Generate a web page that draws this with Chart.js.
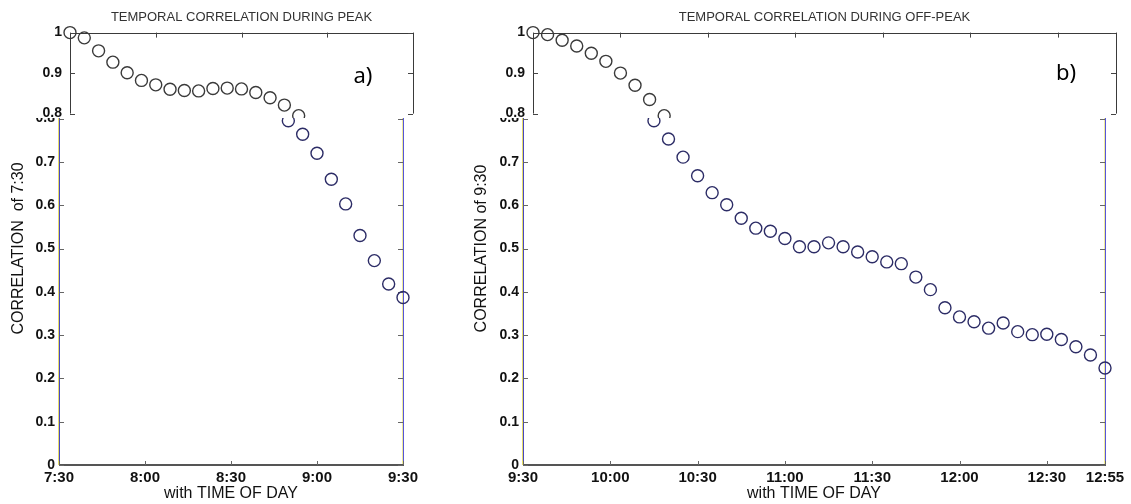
<!DOCTYPE html>
<html>
<head>
<meta charset="utf-8">
<script src="https://cdn.jsdelivr.net/npm/chart.js@4.4.1/dist/chart.umd.min.js"></script>
<style>
  body { margin: 0; background: #fff; width: 1131px; height: 504px; position: relative; overflow: hidden; }
  .box { position: absolute; overflow: hidden; background: #fff; }
  canvas { display: block; }
</style>
</head>
<body>
<div class="box" style="left:0;top:0;width:440px;height:504px"><canvas id="lowA" width="440" height="504"></canvas></div>
<div class="box" style="left:0;top:0;width:440px;height:118px"><canvas id="topA" width="440" height="130"></canvas></div>
<div class="box" style="left:460px;top:0;width:671px;height:504px"><canvas id="lowB" width="671" height="504"></canvas></div>
<div class="box" style="left:460px;top:0;width:671px;height:118px"><canvas id="topB" width="671" height="130"></canvas></div>
<script>
// data (5 minute steps)
const peakTimes = ['7:30','7:35','7:40','7:45','7:50','7:55','8:00','8:05','8:10','8:15','8:20','8:25',
  '8:30','8:35','8:40','8:45','8:50','8:55','9:00','9:05','9:10','9:15','9:20','9:25','9:30'];
const peakCorr = [1.0, 0.987, 0.955, 0.927, 0.901, 0.882, 0.871, 0.860, 0.857, 0.856, 0.862, 0.863,
  0.861, 0.852, 0.839, 0.821, 0.795, 0.764, 0.720, 0.660, 0.603, 0.530, 0.472, 0.418, 0.387];
const peakTicks = ['7:30','8:00','8:30','9:00','9:30'];

const offTimes = ['9:30','9:35','9:40','9:45','9:50','9:55','10:00','10:05','10:10','10:15','10:20','10:25',
  '10:30','10:35','10:40','10:45','10:50','10:55','11:00','11:05','11:10','11:15','11:20','11:25',
  '11:30','11:35','11:40','11:45','11:50','11:55','12:00','12:05','12:10','12:15','12:20','12:25',
  '12:30','12:35','12:40','12:45','12:55'];
const offCorr = [1.0, 0.995, 0.981, 0.967, 0.949, 0.929, 0.900, 0.870, 0.835, 0.795, 0.753, 0.711,
  0.668, 0.629, 0.601, 0.570, 0.547, 0.540, 0.523, 0.504, 0.504, 0.513, 0.504, 0.492,
  0.481, 0.469, 0.465, 0.434, 0.405, 0.363, 0.342, 0.331, 0.316, 0.328, 0.308, 0.301,
  0.302, 0.290, 0.273, 0.254, 0.224];
const offTicks = ['9:30','10:00','10:30','11:00','11:30','12:00','12:30','12:55'];

Chart.defaults.font.family = "'Liberation Sans', Arial, sans-serif";

const yFmt = v => String(+v.toFixed(1));

// matlab style box with inward ticks
const frame = {
  id: 'frame',
  beforeDatasetsDraw(chart, args, o) {
    const { ctx, chartArea: a, scales: { x, y } } = chart;
    ctx.save();
    const vline = (px, cols) => cols.forEach((c, k) => {
      ctx.fillStyle = c;
      ctx.fillRect(Math.round(px) - cols.length + 1 + k, a.top, 1, a.bottom - a.top);
    });
    const hline = (py, col, w) => {
      ctx.fillStyle = col;
      ctx.fillRect(a.left, Math.round(py) - (w - 1), a.right - a.left + 1, w);
    };
    if (o.left) vline(a.left, o.left);
    if (o.right) vline(a.right, o.right);
    if (o.top) hline(a.top, o.top, 1);
    if (o.bottom) hline(a.bottom, o.bottom, 2);
    ctx.strokeStyle = o.tickColor;
    ctx.lineWidth = 1;
    ctx.beginPath();
    o.xTicks.forEach(lbl => {
      const px = Math.round(x.getPixelForValue(chart.data.labels.indexOf(lbl))) + 0.5;
      const py = o.top ? a.top : a.bottom;
      const d = o.top ? 5 : -4;
      ctx.moveTo(px, py); ctx.lineTo(px, py + d);
    });
    y.ticks.forEach(t => {
      const py = Math.round(y.getPixelForValue(t.value)) + 0.5;
      ctx.moveTo(a.left, py); ctx.lineTo(a.left + 5, py);
      ctx.moveTo(a.right, py); ctx.lineTo(a.right - 5, py);
    });
    ctx.stroke();
    ctx.restore();
  },
  afterDraw(chart, args, o) {
    if (!o.tag) return;
    const { ctx } = chart;
    ctx.save();
    ctx.fillStyle = '#000';
    ctx.font = "22px 'Noto Sans', sans-serif";
    ctx.textAlign = 'center';
    ctx.textBaseline = 'middle';
    ctx.fillText(o.tag.text, o.tag.x, o.tag.y);
    ctx.restore();
  }
};

function lowerChart(id, times, values, ticks, yTitle, lay) {
  return new Chart(document.getElementById(id), {
    type: 'line',
    data: {
      labels: times,
      datasets: [{
        data: values, showLine: false, clip: false,
        pointRadius: 6, pointBorderWidth: 1.4,
        pointBorderColor: '#2c2c66', pointBackgroundColor: 'rgba(0,0,0,0)'
      }]
    },
    options: {
      responsive: false, animation: false,
      layout: { padding: { left: 0, top: 32, right: lay.right, bottom: 0 } },
      plugins: {
        legend: { display: false }, tooltip: { enabled: false },
        frame: {
          left: ['#e6dc6a', '#4848c0'], right: ['#eeea9a', '#5656d8'], bottom: '#555',
          tickColor: '#666', xTicks: ticks
        }
      },
      scales: {
        x: {
          grid: { display: false, drawTicks: false }, border: { display: false },
          ticks: {
            autoSkip: false, maxRotation: 0, minRotation: 0, padding: 4, color: '#111',
            font: { size: 15, weight: 'bold' },
            callback: (v, i) => ticks.includes(times[i]) ? times[i] : ''
          },
          title: { display: true, text: 'with TIME OF DAY', color: '#111', font: { size: 16 }, padding: { top: 0, bottom: 1 } },
          afterFit: s => { s.height = 39; }
        },
        y: {
          min: 0, max: 1,
          grid: { display: false, drawTicks: false }, border: { display: false },
          ticks: { stepSize: 0.1, padding: 4, color: '#111', font: { size: 14, weight: 'bold' }, callback: yFmt },
          title: { display: true, text: yTitle, color: '#111', font: { size: 16 }, padding: { top: lay.titlePad, bottom: 0 } },
          afterFit: s => { s.width = lay.left; }
        }
      }
    },
    plugins: [frame]
  });
}

function topChart(id, times, values, ticks, title, lay) {
  return new Chart(document.getElementById(id), {
    type: 'line',
    data: {
      labels: times,
      datasets: [{
        data: values, showLine: false, clip: false,
        pointRadius: 6, pointBorderWidth: 1.4,
        pointBorderColor: '#3a3a3a', pointBackgroundColor: 'rgba(0,0,0,0)'
      }]
    },
    options: {
      responsive: false, animation: false,
      layout: { padding: { left: 0, top: 0, right: lay.right, bottom: 13 } },
      plugins: {
        legend: { display: false }, tooltip: { enabled: false },
        title: {
          display: true, fullSize: false, text: title, color: '#333',
          font: { size: 13, weight: 'normal' }, padding: { top: 10, bottom: 7 }
        },
        frame: {
          left: ['#3a3a3a'], right: ['#3a3a3a'], top: '#3a3a3a',
          tickColor: '#444', xTicks: ticks, tag: lay.tag
        }
      },
      scales: {
        x: { display: false },
        y: {
          min: 0.8, max: 1,
          grid: { display: false, drawTicks: false }, border: { display: false },
          ticks: { stepSize: 0.1, padding: 8, color: '#111', font: { size: 14, weight: 'bold' }, callback: yFmt },
          afterFit: s => { s.width = lay.left; }
        }
      }
    },
    plugins: [frame]
  });
}

lowerChart('lowA', peakTimes, peakCorr, peakTicks, 'CORRELATION  of 7:30', { left: 59, right: 37, titlePad: 9 });
topChart('topA', peakTimes, peakCorr, peakTicks.slice(1, -1), 'TEMPORAL CORRELATION DURING PEAK',
  { left: 70, right: 27, tag: { text: 'a)', x: 363, y: 77 } });
lowerChart('lowB', offTimes, offCorr, offTicks, 'CORRELATION of 9:30', { left: 63, right: 26, titlePad: 12 });
topChart('topB', offTimes, offCorr, ['10:00','10:30','11:00','11:30','12:00','12:30'], 'TEMPORAL CORRELATION DURING OFF-PEAK',
  { left: 73, right: 15, tag: { text: 'b)', x: 606, y: 74 } });
</script>
</body>
</html>
